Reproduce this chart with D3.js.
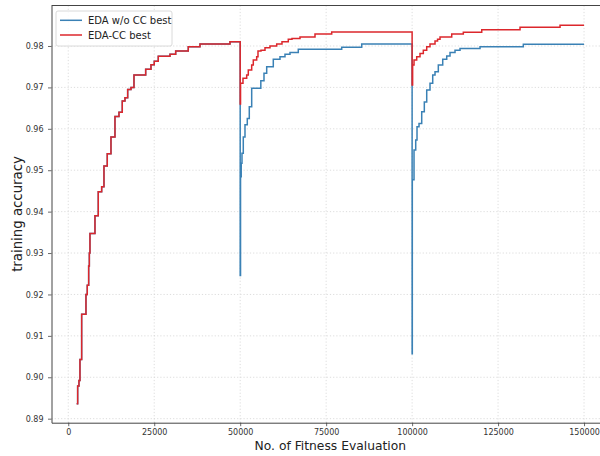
<!DOCTYPE html>
<html>
<head>
<meta charset="utf-8">
<script src="https://cdn.jsdelivr.net/npm/d3@7"></script>
<style>
  body { margin: 0; background: #fff; }
  svg { display: block; font-family: "DejaVu Sans", sans-serif; }
</style>
</head>
<body>
<div id="chart"></div>
<script>
// shared first stage (both runs identical up to 50000 evaluations)
const stage1Evals = [2443, 2734, 3112, 3403, 3897, 5148, 5526, 5934, 6130, 6312, 7766, 8726, 9715, 10384, 11344, 12420, 13584, 14747, 15707, 16492, 17278, 18237, 19110, 22513, 24055, 25015, 26178, 29581, 31239, 34904, 38307, 47033];
const stage1Acc = [0.8936, 0.8979, 0.8992, 0.9043, 0.9152, 0.9200, 0.9222, 0.9269, 0.9300, 0.9347, 0.9390, 0.9448, 0.9460, 0.9510, 0.9540, 0.9580, 0.9630, 0.9640, 0.9667, 0.9675, 0.9695, 0.9700, 0.9730, 0.9744, 0.9755, 0.9763, 0.9775, 0.9780, 0.9788, 0.9798, 0.9805, 0.9810];

// EDA w/o CC best, after stage 1
const noCCEvals = [50000, 50100, 50300, 50524, 50901, 51396, 52065, 52647, 53345, 56000, 56923, 57708, 59628, 61576, 63031, 64485, 66899, 79523, 85340,
  100000, 100058, 100553, 101047, 101425, 102007, 102792, 103549, 104247, 105207, 105992, 106661, 107621, 108900, 110064, 111024, 112478, 113933, 119750, 132345, 150000];
const noCCAcc = [0.9246, 0.9484, 0.9517, 0.9541, 0.9580, 0.9610, 0.9625, 0.9653, 0.9698, 0.9716, 0.9734, 0.9750, 0.9768, 0.9774, 0.9780, 0.9784, 0.9792, 0.9797, 0.9805,
  0.9057, 0.9477, 0.9549, 0.9573, 0.9605, 0.9613, 0.9641, 0.9665, 0.9694, 0.9710, 0.9730, 0.9738, 0.9754, 0.9768, 0.9776, 0.9784, 0.9790, 0.9794, 0.9798, 0.9804, 0.9804];

// EDA-CC best, after stage 1
const ccEvals = [50000, 50100, 50814, 51890, 52356, 53345, 53810, 54799, 55178, 56050, 57214, 58668, 60617, 62158, 63991, 65067, 67394, 71757, 76614,
  100000, 100150, 100553, 101338, 102298, 103258, 104247, 105207, 106661, 107400, 108115, 111518, 114892, 120244, 131385, 143020, 150000];
const ccAcc = [0.9660, 0.9710, 0.9722, 0.9730, 0.9742, 0.9754, 0.9766, 0.9774, 0.9788, 0.9790, 0.9796, 0.9800, 0.9805, 0.9810, 0.9816, 0.9818, 0.9822, 0.9829, 0.9834,
  0.9706, 0.9754, 0.9766, 0.9774, 0.9782, 0.9790, 0.9798, 0.9805, 0.9812, 0.9816, 0.9822, 0.9829, 0.9833, 0.9839, 0.9845, 0.9850, 0.9850];

const xTicks = [0, 25000, 50000, 75000, 100000, 125000, 150000];
const yTicks = [0.89, 0.90, 0.91, 0.92, 0.93, 0.94, 0.95, 0.96, 0.97, 0.98];

const seriesNames = ["EDA w/o CC best", "EDA-CC best"];
const seriesColors = ["#3a81b5", "#dc272c"];

const width = 600, height = 456;
const margin = { top: 5.5, right: -9.4, bottom: 33.3, left: 51.5 };

const svg = d3.select("#chart").append("svg")
  .attr("width", width)
  .attr("height", height);

const x = d3.scaleLinear()
  .domain([-4875, 157375])
  .range([margin.left, width - margin.right]);

const y = d3.scaleLinear()
  .domain([0.88903, 0.98978])
  .range([height - margin.bottom, margin.top]);

const toPoints = (xs, ys) => xs.map((v, i) => [v, ys[i]]);
const noCC = toPoints(stage1Evals.concat(noCCEvals), stage1Acc.concat(noCCAcc));
const cc = toPoints(stage1Evals.concat(ccEvals), stage1Acc.concat(ccAcc));

// grid
const grid = svg.append("g")
  .attr("stroke", "#d4d4d4")
  .attr("stroke-width", 0.8)
  .attr("stroke-dasharray", "1.2,2");
grid.selectAll("line.gx")
  .data(xTicks)
  .join("line")
  .attr("x1", d => x(d)).attr("x2", d => x(d))
  .attr("y1", margin.top).attr("y2", height - margin.bottom);
grid.selectAll("line.gy")
  .data(yTicks)
  .join("line")
  .attr("class", "gy")
  .attr("x1", margin.left).attr("x2", width)
  .attr("y1", d => y(d)).attr("y2", d => y(d));

// lines
const line = d3.line()
  .x(d => x(d[0]))
  .y(d => y(d[1]))
  .curve(d3.curveStepAfter);

svg.append("path")
  .datum(noCC)
  .attr("fill", "none")
  .attr("stroke", seriesColors[0])
  .attr("stroke-width", 1.5)
  .attr("d", line);

svg.append("path")
  .datum(cc)
  .attr("fill", "none")
  .attr("stroke", seriesColors[1])
  .attr("stroke-width", 1.5)
  .attr("d", line);

// axes
const xAxis = svg.append("g")
  .attr("transform", `translate(0,${height - margin.bottom})`)
  .call(d3.axisBottom(x).tickValues(xTicks).tickFormat(d3.format("d"))
    .tickSizeInner(3.5).tickSizeOuter(0).tickPadding(3));

const yAxis = svg.append("g")
  .attr("transform", `translate(${margin.left},0)`)
  .call(d3.axisLeft(y).tickValues(yTicks).tickFormat(d3.format(".2f"))
    .tickSizeInner(3.5).tickSizeOuter(0).tickPadding(4.5));

[xAxis, yAxis].forEach(ax => {
  ax.select(".domain").attr("stroke", "#444").attr("stroke-width", 1);
  ax.selectAll(".tick line").attr("stroke", "#444").attr("stroke-width", 0.8);
  ax.selectAll(".tick text")
    .attr("fill", "#333")
    .style("font-size", "8px")
    .style("font-family", "DejaVu Sans, sans-serif");
});

// top spine
svg.append("line")
  .attr("x1", margin.left).attr("x2", width)
  .attr("y1", margin.top).attr("y2", margin.top)
  .attr("stroke", "#444").attr("stroke-width", 1);

// axis titles
svg.append("text")
  .attr("x", 330.3)
  .attr("y", 449.5)
  .attr("text-anchor", "middle")
  .attr("fill", "#222")
  .style("font-size", "12.3px")
  .text("No. of Fitness Evaluation");

svg.append("text")
  .attr("transform", "translate(21.5,214) rotate(-90)")
  .attr("text-anchor", "middle")
  .attr("fill", "#222")
  .style("font-size", "13.3px")
  .text("training accuracy");

// legend
const legend = svg.append("g");
legend.append("rect")
  .attr("x", 56).attr("y", 11)
  .attr("width", 116).attr("height", 35)
  .attr("rx", 2)
  .attr("fill", "#fff")
  .attr("fill-opacity", 0.85)
  .attr("stroke", "#d0d0d0")
  .attr("stroke-width", 0.8);

seriesNames.forEach((name, i) => {
  legend.append("line")
    .attr("x1", 60).attr("x2", 82)
    .attr("y1", 20.3 + i * 14.7).attr("y2", 20.3 + i * 14.7)
    .attr("stroke", seriesColors[i])
    .attr("stroke-width", 1.5);
  legend.append("text")
    .attr("x", 88)
    .attr("y", 20.3 + i * 14.7)
    .attr("dy", "0.36em")
    .attr("fill", "#222")
    .style("font-size", "10px")
    .text(name);
});
</script>
</body>
</html>
